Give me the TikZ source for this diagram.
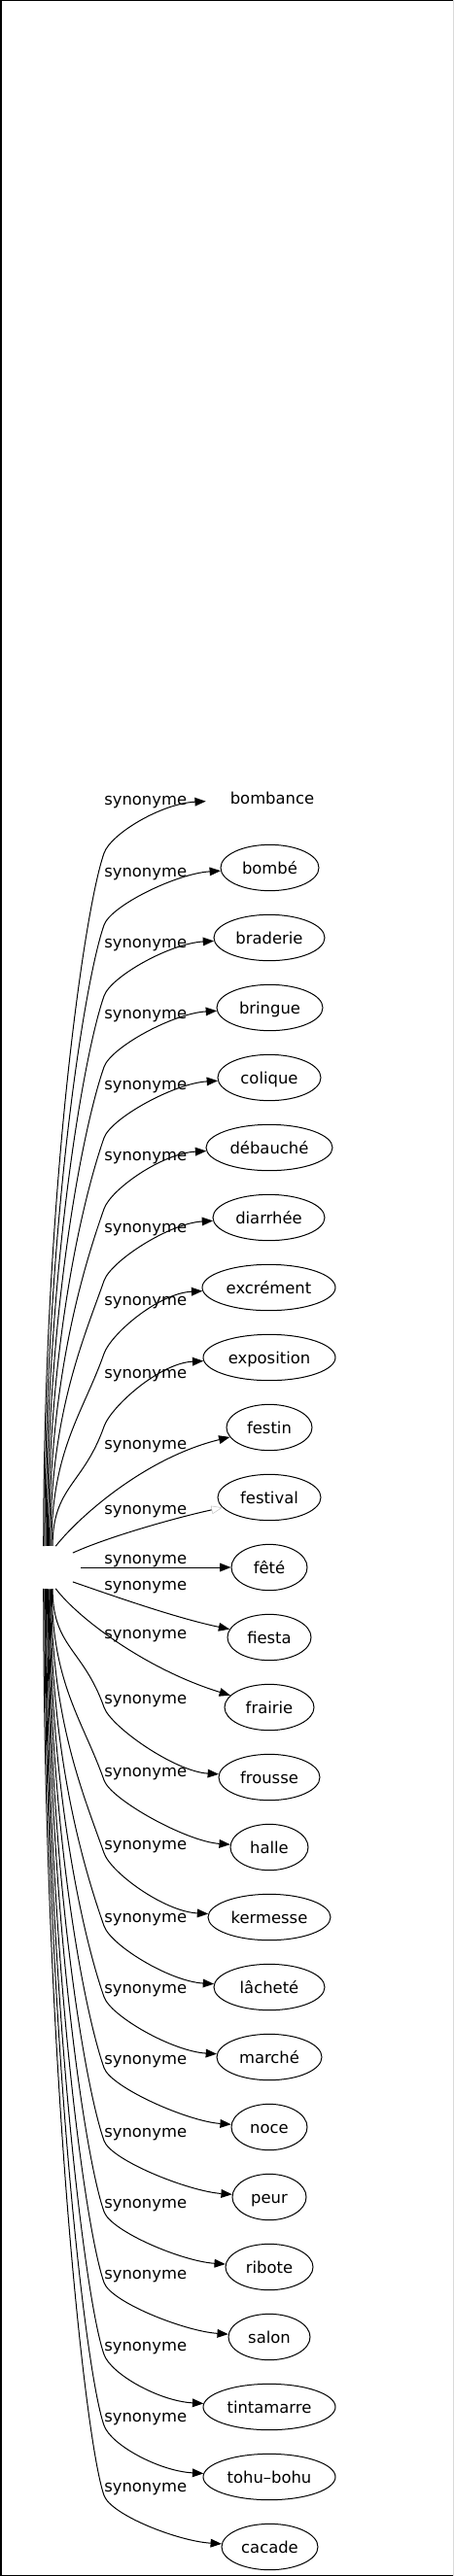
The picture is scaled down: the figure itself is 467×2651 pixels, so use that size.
\documentclass[tikz,border=0pt]{standalone}
\usepackage{fontspec}
\setmainfont{DejaVu Sans}
\usetikzlibrary{shapes.geometric,arrows.meta,calc}
\newcommand\myUpEdge[4]{%
  \pgfmathsetmacro\myDh{0.5*(1590-#4)}%
  \draw[edge] (src.#3) .. controls ($(src.#3)+(0,-\myDh)$) and (86,#4+60) .. (107,#4)
     .. controls (114,#4-20) and ($(#1.west)+(-45,6)$) .. (#1);}
\newcommand\myLoEdge[4]{%
  \pgfmathsetmacro\myDh{0.5*(#4-1637)}%
  \draw[edge] (src.#3) .. controls ($(src.#3)+(0,\myDh)$) and (86,#4-60) .. (107,#4)
     .. controls (114,#4+20) and ($(#1.west)+(-45,-6)$) .. (#1);}
\begin{document}
\begin{tikzpicture}[x=0.75pt,y=-0.75pt,
  txt/.style={font=\fontsize{12.3pt}{14pt}\selectfont},
  tgt/.style={ellipse, draw, line width=0.75pt, inner sep=0pt, txt,
    minimum height=35.5pt, minimum width=#1*0.75pt, text height=9.5pt, text depth=0.5pt},
  lab/.style={inner sep=0pt, txt, anchor=base west},
  edge/.style={line width=0.75pt, -{Triangle[length=8.5pt,width=6.5pt]}},
  edgeF/.style={line width=0.75pt, -{Triangle[open,length=8.5pt,width=6.5pt,color=gray!45,line width=0.4pt]}}]
\useasboundingbox (0,0) rectangle (467,2651);
% frame
\fill[black] (0,0) rectangle (2,2651);
\fill[black] (0,0) rectangle (466,1.3);
\fill[black] (0,2649.5) rectangle (467,2651);
\fill[gray!30] (466,0) rectangle (467,2651);

% source (invisible)
\node[ellipse, minimum width=48pt, minimum height=33pt, inner sep=0pt] (src) at (51,1613) {};

% targets
\node[tgt=137, draw=none] (n0) at (280,821) {bombance};
\node[tgt=101] (n1) at (277.5,893) {bombé};
\node[tgt=114] (n2) at (277,965) {braderie};
\node[tgt=109] (n3) at (277.5,1037) {bringue};
\node[tgt=106] (n4) at (277,1109) {colique};
\node[tgt=130] (n5) at (277,1181) {débauché};
\node[tgt=115] (n6) at (276.5,1253) {diarrhée};
\node[tgt=137] (n7) at (276.5,1325) {excrément};
\node[tgt=136] (n8) at (277,1397) {exposition};
\node[tgt=88] (n9) at (277,1469) {festin};
\node[tgt=106] (n10) at (277,1541) {festival};
\node[tgt=78] (n11) at (277,1613) {fêté};
\node[tgt=86] (n12) at (277,1685) {fiesta};
\node[tgt=92] (n13) at (277,1757) {frairie};
\node[tgt=104] (n14) at (277,1829) {frousse};
\node[tgt=80] (n15) at (277,1901) {halle};
\node[tgt=126] (n16) at (277,1973) {kermesse};
\node[tgt=114] (n17) at (277,2045) {lâcheté};
\node[tgt=108] (n18) at (277,2117) {marché};
\node[tgt=78] (n19) at (277,2189) {noce};
\node[tgt=76] (n20) at (277,2261) {peur};
\node[tgt=90] (n21) at (277,2333) {ribote};
\node[tgt=84] (n22) at (277,2405) {salon};
\node[tgt=136] (n23) at (277,2477) {tintamarre};
\node[tgt=136] (n24) at (277,2549) {tohu–bohu};
\node[tgt=99] (n25) at (277.5,2621) {cacade};

% edge labels
\node[lab] (l0) at (107,828) {synonyme};
\node[lab] (l1) at (107,902) {synonyme};
\node[lab] (l2) at (107,975) {synonyme};
\node[lab] (l3) at (107,1048) {synonyme};
\node[lab] (l4) at (107,1121) {synonyme};
\node[lab] (l5) at (107,1194) {synonyme};
\node[lab] (l6) at (107,1268) {synonyme};
\node[lab] (l7) at (107,1343) {synonyme};
\node[lab] (l8) at (107,1418) {synonyme};
\node[lab] (l9) at (107,1491) {synonyme};
\node[lab] (l10) at (107,1558) {synonyme};
\node[lab] (l11) at (107,1609) {synonyme};
\node[lab] (l12) at (107,1636) {synonyme};
\node[lab] (l13) at (107,1686) {synonyme};
\node[lab] (l14) at (107,1753) {synonyme};
\node[lab] (l15) at (107,1828) {synonyme};
\node[lab] (l16) at (107,1903) {synonyme};
\node[lab] (l17) at (107,1978) {synonyme};
\node[lab] (l18) at (107,2051) {synonyme};
\node[lab] (l19) at (107,2124) {synonyme};
\node[lab] (l20) at (107,2199) {synonyme};
\node[lab] (l21) at (107,2272) {synonyme};
\node[lab] (l22) at (107,2345) {synonyme};
\node[lab] (l23) at (107,2419) {synonyme};
\node[lab] (l24) at (107,2492) {synonyme};
\node[lab] (l25) at (107,2564) {synonyme};

% upper edges
\myUpEdge{n0}{821}{106}{878}
\myUpEdge{n1}{893}{103}{952}
\myUpEdge{n2}{965}{100}{1025}
\myUpEdge{n3}{1037}{97}{1098}
\myUpEdge{n4}{1109}{94}{1171}
\myUpEdge{n5}{1181}{91}{1244}
\myUpEdge{n6}{1253}{88}{1318}
\myUpEdge{n7}{1325}{85}{1393}
\myUpEdge{n8}{1397}{82}{1468}
% middle edges
\draw[edge] (src.74) .. controls (82,1560) and (150,1500) .. (n9);
\draw[edgeF] (src.32) .. controls (110,1582) and (180,1562) .. (n10);
\draw[edge] (src) -- (n11);
\draw[edge] (src.-32) .. controls (110,1640) and (180,1665) .. (n12);
\draw[edge] (src.-74) .. controls (80,1665) and (150,1718) .. (n13);
% lower edges
\myLoEdge{n14}{1829}{-82}{1757}
\myLoEdge{n15}{1901}{-84}{1832}
\myLoEdge{n16}{1973}{-86}{1907}
\myLoEdge{n17}{2045}{-88}{1982}
\myLoEdge{n18}{2117}{-90}{2055}
\myLoEdge{n19}{2189}{-92}{2128}
\myLoEdge{n20}{2261}{-94}{2203}
\myLoEdge{n21}{2333}{-96}{2276}
\myLoEdge{n22}{2405}{-99}{2349}
\myLoEdge{n23}{2477}{-101}{2423}
\myLoEdge{n24}{2549}{-103.5}{2496}
\myLoEdge{n25}{2621}{-106}{2568}
\end{tikzpicture}
\end{document}
